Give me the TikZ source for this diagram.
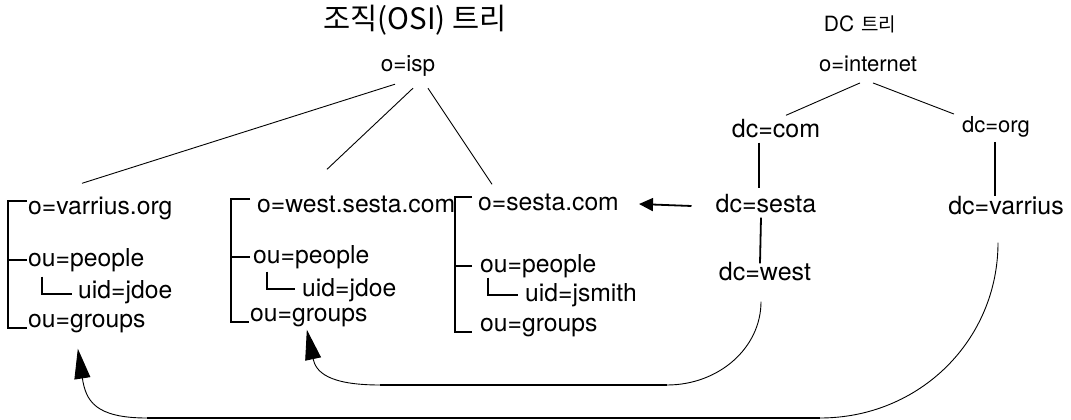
\documentclass[tikz,border=0pt]{standalone}
\usepackage{fontspec}
\setmainfont{TeX Gyre Heros}
\newfontfamily\hangul{Noto Sans CJK KR}
\usetikzlibrary{arrows.meta}
\tikzset{
	treenode/.style = {
		inner sep=0pt,
		text height=13pt,
		text depth=0pt,
		font=\fontsize{24.7}{29}\selectfont
	},
	node_entry/.style = {
		treenode,
		anchor=west
	},
	node_dc/.style = {
		treenode,
		font=\fontsize{22}{26}\selectfont,
		text height=11.5pt
	},
	node_dcbig/.style = {
		node_dc,
		font=\fontsize{25}{30}\selectfont,
		text height=13pt
	},
	node_title/.style = {
		inner sep=0pt,
		font=\hangul\fontsize{29.5}{34}\selectfont
	},
	edge_tree/.style = {
		line width=0.9pt
	},
	edge_bold/.style = {
		line width=1.8pt
	},
	edge_ref/.style = {
		line width=0.9pt,
		-{Triangle[length=30pt,width=16pt]}
	},
}

\begin{document}
\begin{tikzpicture}[x=1pt,y=-1pt]
\useasboundingbox (0,0) rectangle (1071,420);

% organisation tree
\node [node_title] (osi) at (415,20) {조직(OSI) 트리};
\node [treenode, font=\fontsize{22.5}{27}\selectfont, text height=12pt] (isp) at (408,66) {o=isp};

\node [node_entry] (vorg) at (28,208) {o=varrius.org};
\node [node_entry] (vppl) at (28,260) {ou=people};
\node [node_entry] (vuid) at (78,292) {uid=jdoe};
\node [node_entry] (vgrp) at (28,321) {ou=groups};

\node [node_entry] (wss) at (257,206) {o=west.sesta.com};
\node [node_entry] (wppl) at (253,257) {ou=people};
\node [node_entry] (wuid) at (302,290) {uid=jdoe};
\node [node_entry] (wgrp) at (250,315) {ou=groups};

\node [node_entry] (sco) at (478,204) {o=sesta.com};
\node [node_entry] (sppl) at (480,266) {ou=people};
\node [node_entry] (suid) at (525,295) {uid=jsmith};
\node [node_entry] (sgrp) at (480,325) {ou=groups};

\draw [edge_tree] ([shift={(-13,12)}]isp.south) -- ([shift={(54,-18)}]vorg.north west);
\draw [edge_tree] ([shift={(5,16)}]isp.south) -- ([shift={(70,-30)}]wss.north west);
\draw [edge_tree] ([shift={(20,16)}]isp.south) -- ([shift={(14,-13)}]sco.north west);

% brackets
\draw [edge_bold] ([xshift=-1]vorg.north west) -- ++(-19,0) |- ([xshift=-1]vgrp.south west);
\draw [edge_bold] ([xshift=-1]vppl.west) -- ++(-19,0);
\draw [edge_bold] ([shift={(14,10)}]vppl.south west) |- ([shift={(-6,2)}]vuid.west);

\draw [edge_bold] ([xshift=-7]wss.north west) -- ++(-19,0) |- ([xshift=-1]wgrp.south west);
\draw [edge_bold] ([xshift=-3]wppl.west) -- ++(-19,0);
\draw [edge_bold] ([shift={(14,8)}]wppl.south west) |- ([shift={(-7,-1)}]wuid.west);

\draw [edge_bold] ([xshift=-6]sco.north west) -- ++(-17,0) |- ([xshift=-8]sgrp.south west);
\draw [edge_bold] ([xshift=-8]sppl.west) -- ++(-17,0);
\draw [edge_bold] ([shift={(8,5)}]sppl.south west) |- ([shift={(-7,0)}]suid.west);

% domain component tree
\node [inner sep=0pt, font=\fontsize{21}{25}\selectfont] (dct) at (860,24) {DC\hspace{7pt}{\hangul\fontsize{19}{22}\selectfont 트리}};
\node [node_dc] (internet) at (868,66) {o=internet};
\node [node_dcbig] (dccom) at (776,131) {dc=com};
\node [node_dc] (dcorg) at (996,127) {dc=org};
\node [node_dcbig] (dcsesta) at (766,206) {dc=sesta};
\node [node_dcbig] (dcvar) at (1006,208) {dc=varrius};
\node [node_dcbig] (dcwest) at (765,274) {dc=west};

\draw [edge_tree] ([shift={(-8,11)}]internet.south) -- ([shift={(10,-9)}]dccom.north);
\draw [edge_tree] ([shift={(5,11)}]internet.south) -- ([shift={(-42,-7)}]dcorg.north);
\draw [edge_bold] ([shift={(-17,5)}]dccom.south) -- ([shift={(-7,-11)}]dcsesta.north);
\draw [edge_bold] ([shift={(-5,5)}]dcsesta.south) -- ([shift={(-5,-4)}]dcwest.north);
\draw [edge_bold] ([shift={(-1,9)}]dcorg.south) -- ([shift={(-11,-5)}]dcvar.north);

\draw [edge_bold, -{Triangle[length=14pt,width=13pt]}] ([xshift=-24]dcsesta.west) -- ([xshift=20]sco.east);

% references back into the organisation tree
\draw [edge_ref] ([shift={(-4,21)}]dcwest.south)
	.. controls +(0,46) and +(52,0) .. (667,385) coordinate (wr)
	-- (380,385) coordinate (wl)
	.. controls +(-52,0) and +(9,42) .. ([shift={(-2,8)}]wgrp.south);
\draw [edge_bold] (wr) -- (wl);

\draw [edge_ref] ([shift={(-8,28)}]dcvar.south)
	.. controls +(0,97) and +(100,0) .. (820,418) coordinate (vr)
	-- (147,418) coordinate (vl)
	.. controls +(-52,0) and +(8,52) .. ([shift={(-9,21)}]vgrp.south);
\draw [edge_bold] (vr) -- (vl);
\end{tikzpicture}
\end{document}
